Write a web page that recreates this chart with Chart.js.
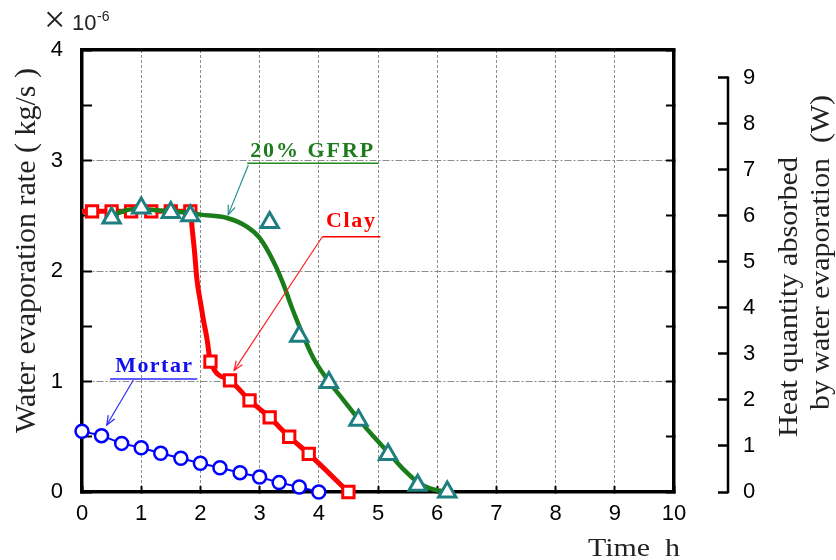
<!DOCTYPE html>
<html><head><meta charset="utf-8">
<script src="https://cdn.jsdelivr.net/npm/chart.js@4.4.1/dist/chart.umd.min.js"></script>
<style>html,body{margin:0;padding:0;background:#fff;}canvas{display:block;}</style>
</head><body>
<canvas id="c" width="836" height="560"></canvas>
<script>
// ---- data (time in h, rate in 1e-6 kg/s) ----
const mortarTime = [0, 0.33, 0.67, 1, 1.33, 1.67, 2, 2.33, 2.67, 3, 3.33, 3.67, 4];
const mortarRate = [0.55, 0.51, 0.44, 0.40, 0.35, 0.305, 0.26, 0.22, 0.175, 0.135, 0.085, 0.045, 0.0];

const clayTime = [0.17, 0.5, 0.83, 1.17, 1.5, 1.83, 2.17, 2.5, 2.83, 3.17, 3.5, 3.83, 4.5];
const clayRate = [2.54, 2.54, 2.54, 2.54, 2.54, 2.54, 1.18, 1.01, 0.83, 0.675, 0.5, 0.345, 0.0];
const clayFitTime = [0, 1.83, 1.86, 1.9, 1.94, 2.0, 2.05, 2.11, 2.17, 2.5, 2.83, 3.17, 3.5, 3.83, 4.5];
const clayFitRate = [2.54, 2.54, 2.39, 2.18, 1.93, 1.72, 1.56, 1.39, 1.18, 1.01, 0.83, 0.675, 0.5, 0.345, 0.0];

const gfrpTime = [0.5, 1.0, 1.5, 1.83, 3.17, 3.67, 4.17, 4.67, 5.17, 5.67, 6.17];
const gfrpRate = [2.48, 2.57, 2.53, 2.50, 2.44, 1.41, 0.99, 0.65, 0.34, 0.06, 0.0];
const gfrpFitTime = [0.5, 0.75, 1.0, 1.25, 1.5, 1.75, 2.0, 2.45, 2.79, 3.0, 3.24, 3.41, 3.53, 3.64, 3.91, 4.17, 4.42, 4.67, 4.93, 5.17, 5.44, 5.67, 5.89, 6.17];
const gfrpFitRate = [2.50, 2.55, 2.56, 2.55, 2.54, 2.53, 2.51, 2.48, 2.40, 2.30, 2.08, 1.87, 1.69, 1.54, 1.21, 1.00, 0.83, 0.66, 0.50, 0.36, 0.20, 0.09, 0.03, 0.0];

const timeTickLabels = ['0','1','2','3','4','5','6','7','8','9','10'];
const rateTickLabels = ['0','1','2','3','4'];
const heatTickLabels = ['0','1','2','3','4','5','6','7','8','9'];

const seriesNames = ['20% GFRP', 'Clay', 'Mortar'];
// ------------------------------------------------------------------

const pts = (xs, ys) => xs.map((x, i) => ({x: x, y: ys[i]}));

// annotation placement, in data units of the x / y scales
const notes = [
  {text: seriesNames[0], color: '#1e7b1e', line: '#1e8a1e', arrow: '#2a9090', x0: 2.84, x1: 4.92, base: 3.03, ux0: 2.79, ux1: 5.01, uy: 2.975, ax0: 2.81, ay0: 2.96, ax1: 2.47, ay1: 2.51},
  {text: seriesNames[1], color: '#ff0000', line: '#ff0000', arrow: '#ff2020', x0: 4.12, x1: 4.95, base: 2.40, ux0: 4.06, ux1: 5.04, uy: 2.31, ax0: 4.06, ay0: 2.31, ax1: 2.57, ay1: 1.10},
  {text: seriesNames[2], color: '#1010ee', line: '#2a2aff', arrow: '#2a2aff', x0: 0.56, x1: 1.86, base: 1.086, ux0: 0.474, ux1: 1.946, uy: 1.023, ax0: 0.868, ay0: 1.014, ax1: 0.418, ay1: 0.606}
];

function drawText(ctx, str, font, color, x, y, angle, targetW, align) {
  ctx.save();
  ctx.font = font; ctx.fillStyle = color;
  const w = ctx.measureText(str).width;
  const s = targetW ? targetW / w : 1;
  ctx.translate(x, y); ctx.rotate(angle); ctx.scale(s, 1);
  ctx.textAlign = align || 'center'; ctx.textBaseline = 'alphabetic';
  ctx.fillText(str, 0, 0);
  ctx.restore();
}

const decor = {
  id: 'decor',
  afterDraw(chart) {
    const ctx = chart.ctx;
    const sx = chart.scales.x, sy = chart.scales.y, sh = chart.scales.y3;
    // right bracket axis line (0..9)
    ctx.save();
    ctx.strokeStyle = '#000'; ctx.lineWidth = 2.5;
    ctx.beginPath();
    ctx.moveTo(sh.left, sh.getPixelForValue(0) + 1.25);
    ctx.lineTo(sh.left, sh.getPixelForValue(9) - 1.25);
    ctx.stroke();
    ctx.restore();

    // annotations
    notes.forEach(n => {
      ctx.save();
      ctx.font = 'bold 22px "Liberation Serif"';
      ctx.letterSpacing = '0px';
      const left = sx.getPixelForValue(n.x0), right = sx.getPixelForValue(n.x1);
      const w0 = ctx.measureText(n.text).width;
      const ls = ((right - left) - w0) / Math.max(1, n.text.length - 1);
      ctx.letterSpacing = ls.toFixed(2) + 'px';
      ctx.fillStyle = n.color; ctx.textAlign = 'left'; ctx.textBaseline = 'alphabetic';
      ctx.fillText(n.text, left, sy.getPixelForValue(n.base));
      ctx.restore();
      ctx.save();
      ctx.strokeStyle = n.line; ctx.lineWidth = 1.6;
      ctx.beginPath();
      ctx.moveTo(sx.getPixelForValue(n.ux0), sy.getPixelForValue(n.uy));
      ctx.lineTo(sx.getPixelForValue(n.ux1), sy.getPixelForValue(n.uy));
      ctx.stroke();
      const X0 = sx.getPixelForValue(n.ax0), Y0 = sy.getPixelForValue(n.ay0);
      const X1 = sx.getPixelForValue(n.ax1), Y1 = sy.getPixelForValue(n.ay1);
      ctx.strokeStyle = n.arrow; ctx.lineWidth = 1.2;
      ctx.beginPath(); ctx.moveTo(X0, Y0); ctx.lineTo(X1, Y1); ctx.stroke();
      const a = Math.atan2(Y1 - Y0, X1 - X0), L = 10, h = 0.38;
      ctx.beginPath();
      ctx.moveTo(X1 - L * Math.cos(a - h), Y1 - L * Math.sin(a - h));
      ctx.lineTo(X1, Y1);
      ctx.lineTo(X1 - L * Math.cos(a + h), Y1 - L * Math.sin(a + h));
      ctx.stroke();
      ctx.restore();
    });

    // titles
    drawText(ctx, 'Water evaporation rate ( kg/s )', '30px "Liberation Serif"', '#222', 35, 250.5, -Math.PI / 2, 365);
    drawText(ctx, 'Heat quantity absorbed', '27px "Liberation Serif"', '#222', 797, 297, -Math.PI / 2, 280);
    drawText(ctx, 'by water evaporation  (W)', '27px "Liberation Serif"', '#222', 829, 252.5, -Math.PI / 2, 315);
    drawText(ctx, 'Time  h', '25px "Liberation Serif"', '#222', 588, 556, 0, 92, 'left');
    // multiplier
    drawText(ctx, '\u00d7', '38px "Liberation Serif"', '#222', 44, 32, 0, 0, 'left');
    drawText(ctx, '10', '22px "Liberation Sans"', '#222', 72, 30, 0, 0, 'left');
    drawText(ctx, '-6', '14px "Liberation Sans"', '#222', 97, 21, 0, 0, 'left');
  }
};

const gridGray = '#8c8c8c';
const tickFont = {family: '"Liberation Sans", Arial, sans-serif', size: 22};

new Chart(document.getElementById('c'), {
  type: 'scatter',
  data: {
    datasets: [
      {label: seriesNames[0], data: pts(gfrpTime, gfrpRate), showLine: false, pointStyle: 'triangle', pointRadius: 10, pointBorderWidth: 3, pointBorderColor: '#1f7f80', pointBackgroundColor: '#ffffff', clip: false},
      {label: seriesNames[0] + ' fit', data: pts(gfrpFitTime, gfrpFitRate), showLine: true, borderColor: '#1a7d1a', borderWidth: 4.5, pointRadius: 0, cubicInterpolationMode: 'monotone', clip: false},
      {label: seriesNames[1], data: pts(clayTime, clayRate), showLine: false, pointStyle: 'rect', pointRadius: 8, pointBorderWidth: 3, pointBorderColor: '#ff0000', pointBackgroundColor: '#ffffff', clip: false},
      {label: seriesNames[1] + ' fit', data: pts(clayFitTime, clayFitRate), showLine: true, borderColor: '#ff0000', borderWidth: 5, pointRadius: 0, cubicInterpolationMode: 'monotone', clip: false},
      {label: seriesNames[2], data: pts(mortarTime, mortarRate), showLine: false, pointStyle: 'circle', pointRadius: 6.5, pointBorderWidth: 2.5, pointBorderColor: '#0000ff', pointBackgroundColor: '#ffffff', clip: false},
      {label: seriesNames[2] + ' line', data: pts(mortarTime, mortarRate), showLine: true, borderColor: '#0000ff', borderWidth: 2, pointRadius: 0, clip: false}
    ]
  },
  options: {
    responsive: false, animation: false, devicePixelRatio: 1, events: [],
    layout: {padding: {top: 50, left: 0, right: 0, bottom: 0}},
    plugins: {legend: {display: false}, tooltip: {enabled: false}},
    scales: {
      x: {
        type: 'linear', position: 'bottom', min: 0, max: 10,
        afterFit: s => { s.height = 68; },
        ticks: {stepSize: 1, font: tickFont, color: '#000', padding: 15, maxRotation: 0, autoSkip: false,
          callback: v => timeTickLabels[Math.round(v)]},
        grid: {color: c => (c.tick && (c.tick.value === 0 || c.tick.value === 10)) ? 'rgba(0,0,0,0)' : gridGray,
          lineWidth: 1, drawTicks: true, tickLength: -6, tickColor: '#000', tickWidth: 2, tickBorderDash: []},
        border: {display: true, color: '#000', width: 3.5, dash: [3, 2]}
      },
      x2: {
        type: 'linear', position: 'top', min: 0, max: 10,
        afterFit: s => { s.height = 0; },
        ticks: {display: false}, grid: {display: false},
        border: {display: true, color: '#000', width: 3.5}
      },
      y: {
        type: 'linear', position: 'left', min: 0, max: 4,
        afterFit: s => { s.width = 82; },
        ticks: {stepSize: 0.5, font: tickFont, color: '#000', padding: 29, autoSkip: false,
          callback: v => Number.isInteger(v) ? rateTickLabels[v] : ''},
        grid: {color: c => (c.tick && [1, 2, 3].includes(c.tick.value)) ? gridGray : 'rgba(0,0,0,0)',
          lineWidth: 1, drawTicks: true, tickLength: -10, tickColor: '#000', tickWidth: 2, tickBorderDash: []},
        border: {display: true, color: '#000', width: 3.5, dash: [7, 2, 2, 2]}
      },
      y2: {
        type: 'linear', position: 'right', min: 0, max: 4, weight: 1,
        afterFit: s => { s.width = 54; },
        ticks: {stepSize: 0.5, display: false},
        grid: {drawOnChartArea: false, drawTicks: true, tickLength: -8, tickColor: '#000', tickWidth: 2, tickBorderDash: []},
        border: {display: true, color: '#000', width: 3.5}
      },
      y3: {
        type: 'linear', position: 'right', min: 0, max: 9.6, weight: 2,
        afterFit: s => { s.width = 108; },
        ticks: {stepSize: 1, includeBounds: false, font: tickFont, color: '#000', padding: 25, autoSkip: false,
          callback: v => heatTickLabels[Math.round(v)]},
        grid: {drawOnChartArea: false, drawTicks: true, tickLength: -10, tickColor: '#000', tickWidth: 2.5, tickBorderDash: []},
        border: {display: false}
      }
    }
  },
  plugins: [decor]
});
</script>
</body></html>
